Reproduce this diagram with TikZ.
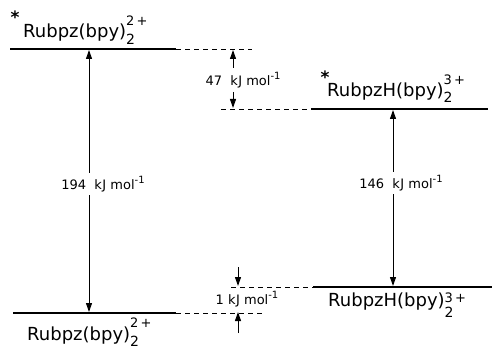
\documentclass[tikz,border=0pt]{standalone}
\usepackage{fontspec}
\setmainfont{DejaVu Sans}
\usetikzlibrary{arrows.meta}
% #1 raise of superscript, #2 drop of subscript, #3 subscript, #4 superscript
\newcommand{\ionch}[4]{\makebox[0pt][l]{\raisebox{-#2}{\fontsize{14}{14}\selectfont #3}}\raisebox{#1}{\fontsize{13}{13}\selectfont #4}}
\newcommand{\permol}{k\kern0.5pt J\ mol\raisebox{0.85ex}{\fontsize{10}{10}\selectfont -1}}
\begin{document}
\begin{tikzpicture}[x=1pt,y=-1pt,
  level/.style={line width=2.8pt},
  dashln/.style={line width=0.9pt,dash pattern=on 5pt off 4pt},
  arr/.style={-{Triangle[length=9pt,width=6pt]},line width=1pt},
  dblarr/.style={{Triangle[length=9pt,width=6pt]}-{Triangle[length=9pt,width=6pt]},line width=1pt},
  big/.style={font=\fontsize{18}{18}\selectfont,inner sep=0pt,anchor=base west},
  star/.style={font=\bfseries\fontsize{17}{17}\selectfont,inner sep=0pt},
  small/.style={font=\fontsize{13}{13}\selectfont,inner sep=1.5pt}]
\useasboundingbox (0,0) rectangle (492,350);
% levels
\coordinate (l1a) at (10,49);  \coordinate (l1b) at (176,49);
\coordinate (l2a) at (13,313); \coordinate (l2b) at (176,313);
\coordinate (r1a) at (311,109); \coordinate (r1b) at (488,109);
\coordinate (r2a) at (313,287); \coordinate (r2b) at (492,287);
\draw[level] (l1a) -- (l1b);
\draw[level] (l2a) -- (l2b);
\draw[level] (r1a) -- (r1b);
\draw[level] (r2a) -- (r2b);
% dashed guides
\coordinate (d1) at (252,49);
\coordinate (d2) at (221,109);
\coordinate (d3) at (264,313);
\coordinate (d4) at (231,287);
\draw[dashln] (l1b) -- (d1);
\draw[dashln] (d2) -- (r1a);
\draw[dashln] (l2b) -- (d3);
\draw[dashln] (d4) -- (r2a);
% big transitions
\coordinate (lt) at (89,50); \coordinate (lb) at (89,312);
\coordinate (rt) at (393,110); \coordinate (rb) at (393,286);
\draw[dblarr] (lt) -- (lb);
\draw[dblarr] (rt) -- (rb);
\node[small,fill=white,inner ysep=3pt] (e194) at (103,184) {194\ \ \permol};
\node[small,fill=white,inner ysep=3pt] (e146) at (401,183) {146\ \ \permol};
% 47 kJ gap
\coordinate (g47t) at (233,50); \coordinate (g47tt) at (233,68);
\coordinate (g47b) at (233,108); \coordinate (g47bt) at (233,92);
\draw[arr] (g47tt) -- (g47t);
\draw[arr] (g47bt) -- (g47b);
\node[small] (e47) at (243,80) {47\ \ \permol};
% 1 kJ gap
\coordinate (g1t) at (238,286); \coordinate (g1tt) at (238,267);
\coordinate (g1b) at (238,312); \coordinate (g1bt) at (238,333);
\draw[arr] (g1tt) -- (g1t);
\draw[arr] (g1bt) -- (g1b);
\node[small] (e1) at (247,299) {1\ \permol};
% species labels
\node[big] (s1) at (23,38) {Rubpz(bpy)\ionch{1.25ex}{0.7ex}{2}{2\,+}};
\node[star] (st1) at (15,17) {*};
\node[big] (s2) at (27,340) {Rubpz(bpy)\ionch{1.25ex}{0.7ex}{2}{2\,+}};
\node[big] (s3) at (327,97) {RubpzH(bpy)\ionch{1.25ex}{0.6ex}{2}{3\,+}};
\node[star] (st3) at (325,77) {*};
\node[big] (s4) at (328,306) {RubpzH(bpy)\ionch{0.35ex}{1.2ex}{2}{3\,+}};
\end{tikzpicture}
\end{document}
